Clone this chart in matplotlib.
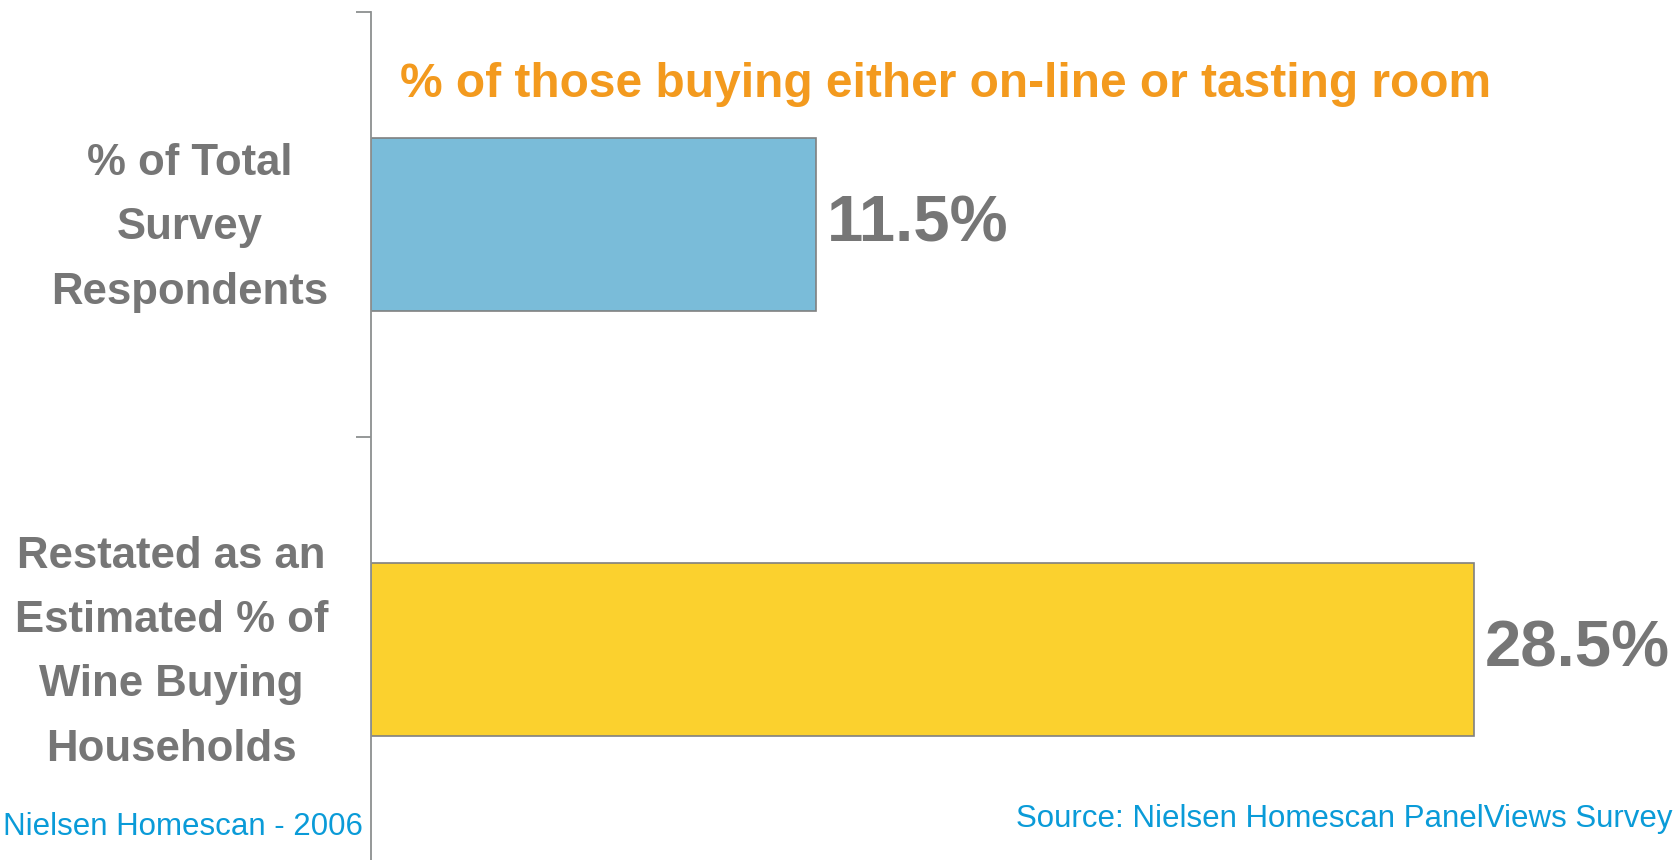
import matplotlib.pyplot as plt

# Survey figures
categories = [
    "% of Total\nSurvey\nRespondents",
    "Restated as an\nEstimated % of\nWine Buying\nHouseholds",
]
shares = [11.5, 28.5]
bar_colors = ["#7ABCD9", "#FBD12E"]

title = "% of those buying either on-line or tasting room"
left_note = "Nielsen Homescan - 2006"
source_note = "Source: Nielsen Homescan PanelViews Survey"

GRAY = "#767676"
AXIS_GRAY = "#8C9090"
ORANGE = "#F39A1E"
BLUE = "#0A9BD8"

plt.rcParams["font.family"] = ["Liberation Sans", "DejaVu Sans"]

W, H = 1678, 860
fig = plt.figure(figsize=(W / 100, H / 100), dpi=100)

# Plot area starts at the vertical axis and runs to the right edge
ax = fig.add_axes([371 / W, -2 / H, 1 - 371 / W, 850 / H])

y_pos = [0.5, 1.5]
ax.barh(y_pos, shares, height=0.407, color=bar_colors,
        edgecolor="#808080", linewidth=1.2)

ax.set_xlim(0, 1307 / 38.7)
ax.set_ylim(2, 0)

# Category boundaries get tick marks; names are placed between them
ax.set_yticks([0, 1, 2])
ax.set_yticklabels([])
ax.tick_params(axis="y", length=11, width=1.3, color=AXIS_GRAY,
               direction="out")
for y, name in zip(y_pos, categories):
    ax.annotate(name, xy=(0, y), xycoords=("axes fraction", "data"),
                xytext=(-31, -2.5), textcoords="offset points",
                ha="right", va="center", multialignment="center",
                linespacing=1.72, fontsize=31.5, fontweight="bold",
                color=GRAY)

ax.set_xticks([])
for side in ["top", "right", "bottom"]:
    ax.spines[side].set_visible(False)
ax.spines["left"].set_color(AXIS_GRAY)
ax.spines["left"].set_linewidth(1.3)

# Value labels to the right of each bar
for y, v in zip(y_pos, shares):
    ax.annotate(f"{v:.1f}%", xy=(v, y), xytext=(8, 0),
                textcoords="offset points", ha="left", va="center",
                fontsize=47, fontweight="bold", color=GRAY)

fig.text(400 / W, 1 - 97 / H, title, ha="left", va="baseline",
         fontsize=34.5, fontweight="bold", color=ORANGE)

fig.text(363 / W, 1 - 835 / H, left_note, ha="right", va="baseline",
         fontsize=22.5, color=BLUE)
fig.text(1672 / W, 1 - 827 / H, source_note, ha="right", va="baseline",
         fontsize=22.5, color=BLUE)

fig.savefig("out.png", dpi=100)
